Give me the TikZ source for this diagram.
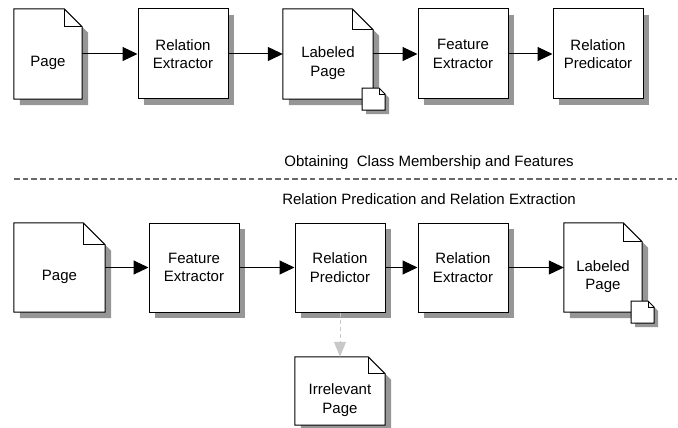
\documentclass[tikz,border=0pt]{standalone}
\usepackage{fontspec}
\setmainfont{Liberation Sans}
\usetikzlibrary{arrows.meta,backgrounds,shadows}
\definecolor{shadowc}{RGB}{150,150,150}
\definecolor{sepc}{RGB}{105,105,105}
\definecolor{grayarrow}{RGB}{200,200,200}
\tikzset{
  txt/.style={font=\fontsize{15}{18.5}\selectfont, align=center, inner sep=0pt},
  procbox/.style={txt, draw=black, line width=1pt, fill=white,
    minimum width=90pt, minimum height=90pt,
    general shadow={fill=shadowc, shadow xshift=6pt, shadow yshift=-6pt}},
  docbox/.style={draw=none, inner sep=0pt},
  lbl/.style={txt, yshift=-9pt},
  flow/.style={line width=1pt, -{Triangle[length=15pt,width=14pt]}},
  grayflow/.style={grayarrow, line width=1pt, dash pattern=on 4pt off 3pt,
    -{Triangle[length=15pt,width=12pt]}},
  sep/.style={sepc, line width=1.5pt, dash pattern=on 5.5pt off 3.2pt},
}
% document shape drawn behind a named node
\newcommand\docshape[2]{%
  \begin{scope}[on background layer]
    \fill[shadowc]
      ([xshift=6pt,yshift=-6pt]#1.north west) -- ([xshift=6pt-#2pt,yshift=-6pt]#1.north east)
      -- ([xshift=6pt,yshift=-6pt-#2pt]#1.north east)
      -- ([xshift=6pt,yshift=-6pt]#1.south east) -- ([xshift=6pt,yshift=-6pt]#1.south west) -- cycle;
    \draw[line width=1pt, fill=white]
      (#1.north west) -- ([xshift=-#2pt]#1.north east) -- ([yshift=-#2pt]#1.north east)
      -- (#1.south east) -- (#1.south west) -- cycle;
    \draw[line width=1pt] ([xshift=-#2pt]#1.north east) |- ([yshift=-#2pt]#1.north east);
  \end{scope}}
% small document icon on the lower right corner of a named node
\newcommand\smalldoc[1]{%
  \begin{scope}[shift={(#1.south east)}]
    \fill[shadowc] (-7,-7) -- (10,-7) -- (16,-1) -- (16,15) -- (-7,15) -- cycle;
    \draw[line width=1pt, fill=white] (-11,-11) -- (6,-11) -- (12,-5) -- (12,11) -- (-11,11) -- cycle;
    \draw[line width=0.9pt] (6,-11) |- (12,-5);
  \end{scope}}
\begin{document}
\begin{tikzpicture}[x=1pt, y=-1pt]
\useasboundingbox (0,0) rectangle (678,428);

% top row
\node[docbox, minimum width=68pt, minimum height=90pt, label={[lbl]center:Page}] (p1) at (48,54) {};
\docshape{p1}{18}
\node[procbox] (re1) at (183,54) {Relation\\Extractor};
\node[docbox, minimum width=90pt, minimum height=90pt, label={[lbl]center:{Labeled\\Page}}] (lp1) at (328,54) {};
\docshape{lp1}{21}
\smalldoc{lp1}
\node[procbox] (fe1) at (463,54) {Feature\\Extractor};
\node[procbox] (rp1) at (598,54) {Relation\\Predicator};

\draw[flow] (p1.east) -- (re1.west);
\draw[flow] (re1.east) -- (lp1.west);
\draw[flow] (lp1.east) -- (fe1.west);
\draw[flow] (fe1.east) -- (rp1.west);

% separator
\node[txt] (t1) at (429,163) {Obtaining\ \ Class Membership and Features};
\coordinate (dl) at (14,179);
\coordinate (dr) at (677,179);
\draw[sep] (dl) -- (dr);
\node[txt] (t2) at (429,199) {Relation Predication and Relation Extraction};

% bottom row
\node[docbox, minimum width=91pt, minimum height=89pt, label={[lbl]center:Page}] (p2) at (59.5,267.5) {};
\docshape{p2}{22}
\node[procbox, minimum height=89pt] (fe2) at (194,267.5) {Feature\\Extractor};
\node[procbox, minimum height=89pt] (rpr2) at (340,267.5) {Relation\\Predictor};
\node[procbox, minimum height=89pt] (re2) at (463,267.5) {Relation\\Extractor};
\node[docbox, minimum width=78pt, minimum height=89pt, label={[lbl]center:{Labeled\\Page}}] (lp2) at (603,267.5) {};
\docshape{lp2}{19}
\smalldoc{lp2}

\node[docbox, minimum width=90pt, minimum height=68pt, label={[lbl]center:{Irrelevant\\Page}}] (ir) at (340,391) {};
\docshape{ir}{17}

\draw[flow] (p2.east) -- (fe2.west);
\draw[flow] (fe2.east) -- (rpr2.west);
\draw[flow] (rpr2.east) -- (re2.west);
\draw[flow] (re2.east) -- (lp2.west);
\draw[grayflow] (rpr2.south) -- (ir.north);
\end{tikzpicture}
\end{document}
